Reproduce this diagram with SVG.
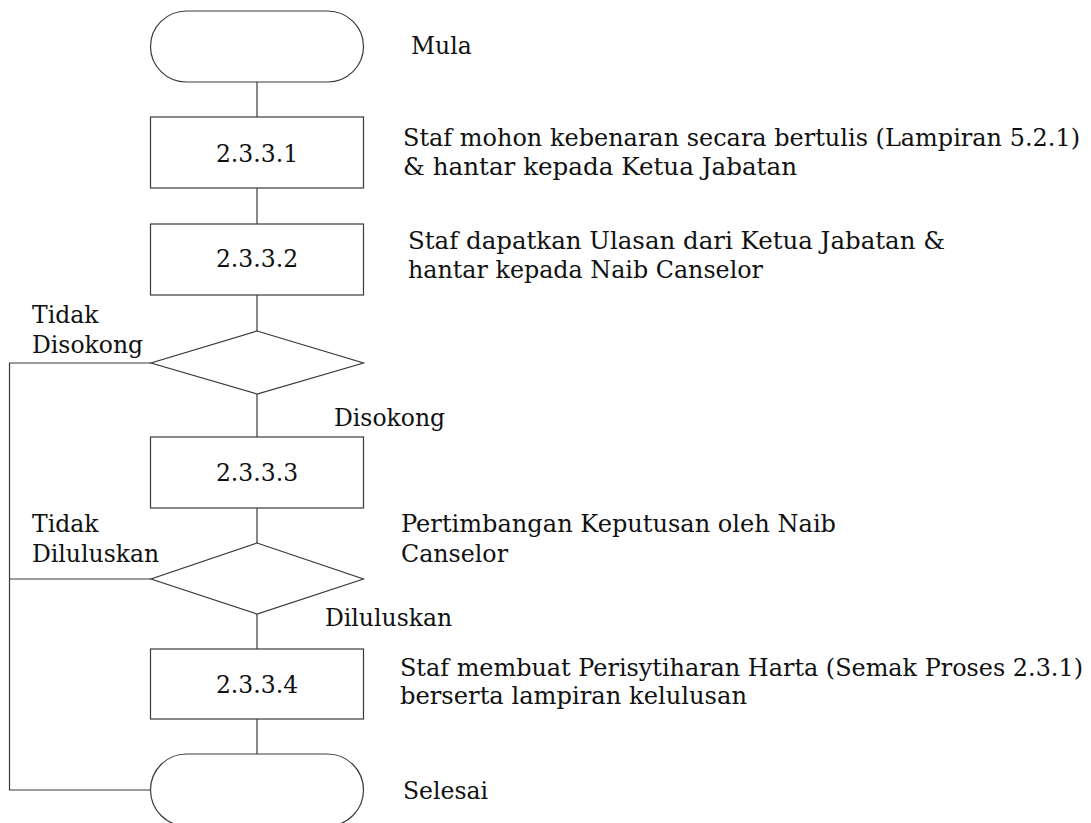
<svg xmlns="http://www.w3.org/2000/svg" width="1091" height="823" viewBox="0 0 1091 823">
<style>
.s{fill:none;stroke:#3a3a3a;stroke-width:1.2}
.n{fill:#ffffff;stroke:#3a3a3a;stroke-width:1.2}
text{font-family:"DejaVu Serif","Liberation Serif",serif;font-size:23.5px;fill:#111111}
.c{text-anchor:middle}
</style>
<rect width="1091" height="823" fill="#ffffff"/>
<g id="connectors">
<path class="s" d="M257,82V117M257,188V224M257,295V331M257,394V437M257,508V543M257,614V649M257,719V754"/>
<path class="s" d="M151,363H9.5V790H151M151,579H9.5"/>
</g>
<g id="start">
<rect class="n" x="150.5" y="11" width="213" height="71" rx="36" ry="35.5"/>
<text x="411" y="54">Mula</text>
</g>
<g id="p1">
<rect class="n" x="150.5" y="117" width="213" height="71"/>
<text class="c" x="257" y="162">2.3.3.1</text>
<text x="403" y="146" textLength="677" lengthAdjust="spacingAndGlyphs">Staf mohon kebenaran secara bertulis (Lampiran 5.2.1)</text>
<text x="403" y="175" textLength="394" lengthAdjust="spacingAndGlyphs">&amp; hantar kepada Ketua Jabatan</text>
</g>
<g id="p2">
<rect class="n" x="150.5" y="224" width="213" height="71"/>
<text class="c" x="257" y="267">2.3.3.2</text>
<text x="408" y="249" textLength="537" lengthAdjust="spacingAndGlyphs">Staf dapatkan Ulasan dari Ketua Jabatan &amp;</text>
<text x="408" y="278" textLength="355" lengthAdjust="spacingAndGlyphs">hantar kepada Naib Canselor</text>
</g>
<g id="d1">
<polygon class="n" points="257,331 363.5,363 257,394 151,363"/>
<text x="32" y="323">Tidak</text>
<text x="32" y="353">Disokong</text>
<text x="334" y="426">Disokong</text>
</g>
<g id="p3">
<rect class="n" x="150.5" y="437" width="213" height="71"/>
<text class="c" x="257" y="481">2.3.3.3</text>
</g>
<g id="d2">
<polygon class="n" points="257,543 363.5,579 257,614 151,579"/>
<text x="32" y="532">Tidak</text>
<text x="32" y="562">Diluluskan</text>
<text x="325" y="626">Diluluskan</text>
<text x="401" y="532" textLength="435" lengthAdjust="spacingAndGlyphs">Pertimbangan Keputusan oleh Naib</text>
<text x="401" y="562" textLength="107" lengthAdjust="spacingAndGlyphs">Canselor</text>
</g>
<g id="p4">
<rect class="n" x="150.5" y="649" width="213" height="70"/>
<text class="c" x="257" y="693">2.3.3.4</text>
<text x="400" y="676" textLength="683" lengthAdjust="spacingAndGlyphs">Staf membuat Perisytiharan Harta (Semak Proses 2.3.1)</text>
<text x="400" y="704" textLength="347" lengthAdjust="spacingAndGlyphs">berserta lampiran kelulusan</text>
</g>
<g id="end">
<rect class="n" x="150.5" y="754" width="213" height="72" rx="36" ry="36"/>
<text x="403" y="799">Selesai</text>
</g>
</svg>
